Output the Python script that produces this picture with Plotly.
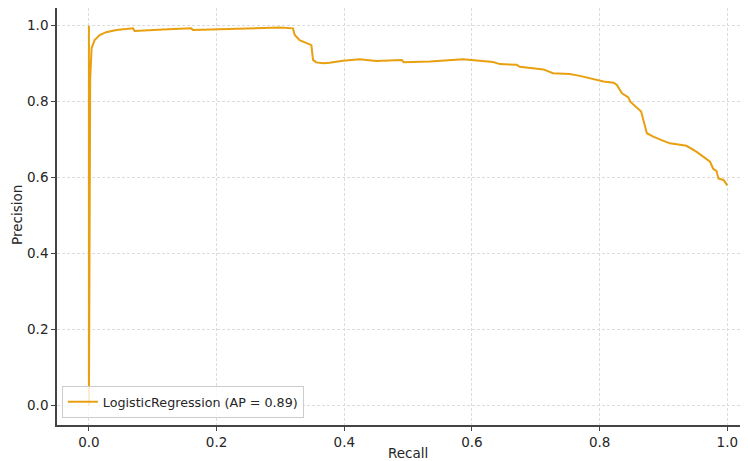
import plotly.graph_objects as go

# Precision-recall curve points
recall = [0.0, 0.0, 0.002, 0.0042, 0.0089, 0.0168, 0.027, 0.043, 0.069, 0.0716, 0.116, 0.158,
          0.160, 0.163, 0.200, 0.299, 0.3197, 0.3224, 0.330, 0.343, 0.3485, 0.351, 0.356, 0.367,
          0.377, 0.398, 0.424, 0.450, 0.490, 0.493, 0.534, 0.586, 0.612, 0.633, 0.644, 0.670,
          0.675, 0.696, 0.712, 0.727, 0.753, 0.769, 0.790, 0.806, 0.822, 0.827, 0.835, 0.845,
          0.848, 0.863, 0.865, 0.874, 0.884, 0.897, 0.910, 0.936, 0.952, 0.973, 0.978, 0.983,
          0.986, 0.994, 0.999, 1.0]
precision = [1.0, 0.0, 0.86, 0.9405, 0.962, 0.9755, 0.983, 0.9887, 0.993, 0.986, 0.990, 0.993,
             0.993, 0.989, 0.991, 0.995, 0.993, 0.9755, 0.962, 0.954, 0.949, 0.910, 0.9035, 0.901,
             0.9026, 0.908, 0.912, 0.907, 0.910, 0.904, 0.906, 0.9116, 0.908, 0.9045, 0.899, 0.897,
             0.892, 0.889, 0.885, 0.875, 0.873, 0.868, 0.859, 0.853, 0.850, 0.844, 0.822, 0.811,
             0.800, 0.778, 0.774, 0.717, 0.708, 0.699, 0.6905, 0.684, 0.668, 0.642, 0.623, 0.618,
             0.598, 0.594, 0.581, 0.58]
series_name = "LogisticRegression (AP = 0.89)"
tick_vals = [0.0, 0.2, 0.4, 0.6, 0.8, 1.0]
x_title = "Recall"
y_title = "Precision"

fig = go.Figure()
fig.add_trace(go.Scatter(
    x=recall, y=precision, mode="lines", name=series_name,
    line=dict(color="#E8A010", width=2),
    showlegend=True,
))

font_family = "DejaVu Sans"
text_color = "#262626"
axis_common = dict(
    showline=True, linecolor="#444444", linewidth=1.6,
    ticks="outside", ticklen=4, tickwidth=1.2, tickcolor="#444444",
    showgrid=True, gridcolor="#dcdcdc", gridwidth=1, griddash="3px,2px",
    zeroline=False, tickvals=tick_vals, tickformat=".1f",
    tickfont=dict(family=font_family, size=13.5, color=text_color),
    mirror=False, automargin=False,
)

fig.update_xaxes(range=[-0.05, 1.0324], **axis_common)
fig.update_yaxes(range=[-0.0508, 1.0466], **axis_common)

fig.add_annotation(text=x_title, xref="paper", yref="paper", x=0.508, y=-0.0665,
                   xanchor="center", yanchor="middle", showarrow=False, borderpad=0,
                   font=dict(family=font_family, size=13.5, color=text_color))
fig.add_annotation(text=y_title, xref="paper", yref="paper", x=-0.058, y=0.5036,
                   xanchor="center", yanchor="middle", showarrow=False, textangle=-90,
                   borderpad=0,
                   font=dict(family=font_family, size=13.5, color=text_color))

# page body has an 8px margin: figure is sized so the plot lands where the reference has it
fig.update_layout(
    width=740, height=453,
    margin=dict(l=49, r=0, t=0, b=36),
    plot_bgcolor="white", paper_bgcolor="white",
    font=dict(family=font_family, size=13.5, color=text_color),
    legend=dict(
        x=0.007, y=0.017, xanchor="left", yanchor="bottom",
        bgcolor="rgba(255,255,255,0.8)", bordercolor="#cccccc", borderwidth=1,
        font=dict(family=font_family, size=12.7, color=text_color),
        itemwidth=30, tracegroupgap=0,
    ),
    showlegend=True,
)

fig.write_html("out.html")
